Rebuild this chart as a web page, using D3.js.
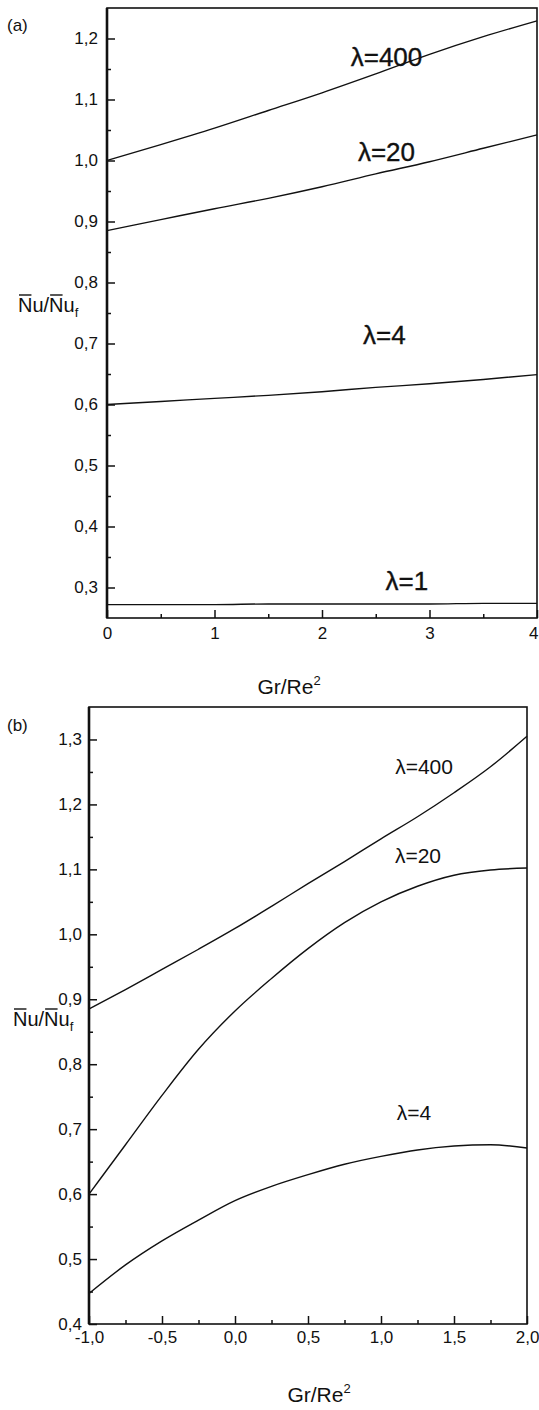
<!DOCTYPE html>
<html>
<head>
<meta charset="utf-8">
<script src="https://cdn.jsdelivr.net/npm/d3@7"></script>
<style>
  html, body { margin: 0; padding: 0; background: #fff; }
  svg { display: block; }
  text { font-family: Arial, "Liberation Sans", Helvetica, sans-serif; fill: #111; }
</style>
</head>
<body>
<svg id="fig" width="539" height="1410"></svg>
<script>
// Panel (a): mean Nusselt ratio against Gr/Re^2 for several lambda
const grA = [0, 0.5, 1, 1.5, 2, 2.5, 3, 3.5, 4];
const nuA400 = [1.000, 1.026, 1.053, 1.082, 1.111, 1.142, 1.174, 1.203, 1.229];
const nuA20  = [0.885, 0.903, 0.921, 0.938, 0.957, 0.978, 0.998, 1.020, 1.042];
const nuA4   = [0.600, 0.605, 0.610, 0.615, 0.621, 0.628, 0.634, 0.641, 0.649];
const nuA1   = [0.272, 0.272, 0.272, 0.273, 0.273, 0.273, 0.273, 0.274, 0.274];
const xTicksA = [0, 1, 2, 3, 4];
const yTicksA = [0.3, 0.4, 0.5, 0.6, 0.7, 0.8, 0.9, 1.0, 1.1, 1.2];

// Panel (b): aiding and opposing flow range
const grB = [-1, -0.75, -0.5, -0.25, 0, 0.25, 0.5, 0.75, 1, 1.25, 1.5, 1.75, 2];
const nuB400 = [0.885, 0.915, 0.946, 0.977, 1.009, 1.043, 1.078, 1.112, 1.147, 1.181, 1.218, 1.258, 1.305];
const nuB20  = [0.600, 0.676, 0.752, 0.823, 0.882, 0.932, 0.978, 1.018, 1.050, 1.074, 1.091, 1.099, 1.102];
const nuB4   = [0.447, 0.491, 0.528, 0.560, 0.590, 0.612, 0.630, 0.646, 0.658, 0.668, 0.674, 0.676, 0.671];
const xTicksB = [-1, -0.5, 0, 0.5, 1, 1.5, 2];
const yTicksB = [0.4, 0.5, 0.6, 0.7, 0.8, 0.9, 1.0, 1.1, 1.2, 1.3];

const labelsA = ["\u03bb=400", "\u03bb=20", "\u03bb=4", "\u03bb=1"];
const labelPosA = [[2.6, 1.170], [2.6, 1.014], [2.58, 0.714], [2.79, 0.312]];
const labelsB = ["\u03bb=400", "\u03bb=20", "\u03bb=4"];
const labelPosB = [[1.295, 1.259], [1.253, 1.122], [1.226, 0.725]];

const comma = d => d3.format(".1f")(d).replace(".", ",").replace("\u2212", "-");

const svg = d3.select("#fig");

function panel(opt) {
  const x = d3.scaleLinear().domain(opt.xDomain).range(opt.xRange);
  const y = d3.scaleLinear().domain(opt.yDomain).range(opt.yRange);
  const g = svg.append("g");
  const [x0, x1] = opt.xRange, [y0, y1] = opt.yRange;

  // minor ticks
  g.append("g").attr("transform", `translate(${x0},0)`)
    .call(d3.axisLeft(y).tickValues(opt.yMinor).tickSizeInner(-4).tickSizeOuter(0).tickFormat(""))
    .call(a => a.select(".domain").remove())
    .call(a => a.selectAll("line").attr("stroke", "#111").attr("stroke-width", 1.5));
  g.append("g").attr("transform", `translate(0,${y0})`)
    .call(d3.axisBottom(x).tickValues(opt.xMinor).tickSizeInner(-4).tickSizeOuter(0).tickFormat(""))
    .call(a => a.select(".domain").remove())
    .call(a => a.selectAll("line").attr("stroke", "#111").attr("stroke-width", 1.5));

  // major ticks with labels
  g.append("g").attr("transform", `translate(${x0},0)`)
    .call(d3.axisLeft(y).tickValues(opt.yTicks).tickSizeInner(-8).tickSizeOuter(0).tickPadding(opt.yPad).tickFormat(comma))
    .call(a => a.select(".domain").remove())
    .call(a => a.selectAll("line").attr("stroke", "#111").attr("stroke-width", 1.5))
    .call(a => a.selectAll("text").attr("font-size", 17).attr("fill", "#111")
      .attr("font-family", "Arial, 'Liberation Sans', sans-serif"));
  const xAx = g.append("g").attr("transform", `translate(0,${y0})`)
    .call(d3.axisBottom(x).tickValues(opt.xTicks).tickSizeInner(-8).tickSizeOuter(0).tickPadding(opt.xPad).tickFormat(opt.xFmt))
    .call(a => a.select(".domain").remove())
    .call(a => a.selectAll("line").attr("stroke", "#111").attr("stroke-width", 1.5))
    .call(a => a.selectAll("text").attr("font-size", 17).attr("fill", "#111")
      .attr("font-family", "Arial, 'Liberation Sans', sans-serif"));
  // keep the last tick label inside the page edge
  xAx.selectAll("text").filter(d => d === opt.xTicks[opt.xTicks.length - 1])
    .attr("text-anchor", "end").attr("dx", opt.lastDx);

  // frame
  g.append("rect").attr("x", x0).attr("y", y1).attr("width", x1 - x0).attr("height", y0 - y1)
    .attr("fill", "none").attr("stroke", "#111").attr("stroke-width", 1.6);
  g.append("line").attr("x1", x0).attr("x2", x0).attr("y1", y1).attr("y2", y0)
    .attr("stroke", "#111").attr("stroke-width", 2.6);

  // curves
  const line = d3.line().x((d, i) => x(opt.xs[i])).y(d => y(d)).curve(d3.curveMonotoneX);
  opt.series.forEach(s => {
    g.append("path").attr("d", line(s)).attr("fill", "none")
      .attr("stroke", "#111").attr("stroke-width", 1.4);
  });

  // curve labels
  opt.labels.forEach((t, i) => {
    const [lx, ly] = opt.labelPos[i];
    g.append("text").attr("x", x(lx)).attr("y", y(ly) + 0.36 * opt.labelSize)
      .attr("text-anchor", "middle").attr("font-size", opt.labelSize)
      .attr("stroke", "#111").attr("stroke-width", opt.labelStroke)
      .text(t);
  });

  // x axis title
  const xt = g.append("text").attr("x", opt.xTitle[0]).attr("y", opt.xTitle[1])
    .attr("text-anchor", "middle").attr("font-size", 21);
  xt.append("tspan").text("Gr/Re");
  xt.append("tspan").attr("dy", -9).attr("font-size", 13).text("2");

  // y axis title with overbars on N
  const yt = g.append("text").attr("x", opt.yTitle[0]).attr("y", opt.yTitle[1]).attr("font-size", 20);
  yt.append("tspan").text("Nu/Nu");
  yt.append("tspan").attr("dy", 5).attr("font-size", 13).text("f");
  const node = yt.node();
  [0, 3].forEach(ci => {
    const s = node.getStartPositionOfChar(ci).x, e = node.getEndPositionOfChar(ci).x;
    g.append("line").attr("x1", s + 1).attr("x2", e - 1)
      .attr("y1", opt.yTitle[1] - 17).attr("y2", opt.yTitle[1] - 17)
      .attr("stroke", "#111").attr("stroke-width", 1.4);
  });

  // panel tag
  g.append("text").attr("x", 7).attr("y", opt.tagY).attr("font-size", 17).text(opt.tag);
}

panel({
  xDomain: [0, 4], xRange: [107, 537],
  yDomain: [0.25, 1.25], yRange: [618, 8],
  xTicks: xTicksA, xMinor: [0.5, 1.5, 2.5, 3.5],
  yTicks: yTicksA, yMinor: [0.35, 0.45, 0.55, 0.65, 0.75, 0.85, 0.95, 1.05, 1.15],
  xFmt: d3.format("d"), xPad: 9, yPad: 9, lastDx: 1,
  xs: grA, series: [nuA400, nuA20, nuA4, nuA1],
  labels: labelsA, labelPos: labelPosA, labelSize: 26, labelStroke: 0.35,
  xTitle: [289, 694], yTitle: [18, 312], tag: "(a)", tagY: 31
});

panel({
  xDomain: [-1, 2], xRange: [89, 527],
  yDomain: [0.4, 1.35], yRange: [1324, 707],
  xTicks: xTicksB, xMinor: [-0.75, -0.25, 0.25, 0.75, 1.25, 1.75],
  yTicks: yTicksB, yMinor: [0.45, 0.55, 0.65, 0.75, 0.85, 0.95, 1.05, 1.15, 1.25],
  xFmt: comma, xPad: 7, yPad: 7, lastDx: 12,
  xs: grB, series: [nuB400, nuB20, nuB4],
  labels: labelsB, labelPos: labelPosB, labelSize: 21, labelStroke: 0,
  xTitle: [319, 1402], yTitle: [13, 1026], tag: "(b)", tagY: 731
});
</script>
</body>
</html>
